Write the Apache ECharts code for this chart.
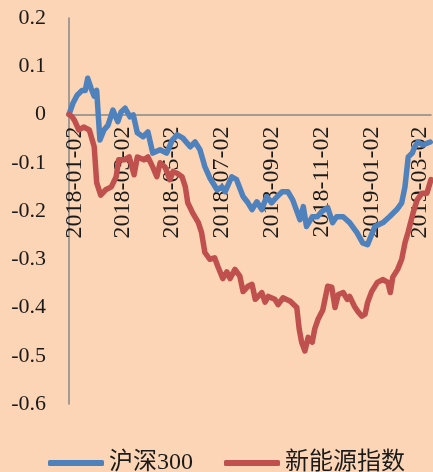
<!DOCTYPE html>
<html>
<head>
<meta charset="utf-8">
<script src="https://cdn.jsdelivr.net/npm/echarts@6/dist/echarts.min.js"></script>
<style>
  html, body { margin: 0; padding: 0; background: #FBD5B5; }
  #chart { width: 433px; height: 472px; }
</style>
</head>
<body>
<div id="chart"></div>
<script>
// tick labels on the date axis
const dateTicks = [
  "2018-01-02", "2018-03-02", "2018-05-02", "2018-07-02",
  "2018-09-02", "2018-11-02", "2019-01-02", "2019-03-02"
]

// 沪深300, cumulative return
const hs300 = [
  ["2018-01-02", 0], ["2018-01-07", 0.024], ["2018-01-12", 0.04], ["2018-01-18", 0.05],
  ["2018-01-22", 0.05], ["2018-01-25", 0.075], ["2018-01-29", 0.055], ["2018-02-02", 0.038],
  ["2018-02-05", 0.05], ["2018-02-09", -0.053], ["2018-02-14", -0.032], ["2018-02-19", -0.022],
  ["2018-02-25", 0.009], ["2018-03-03", -0.015], ["2018-03-07", 0.005], ["2018-03-12", 0.013],
  ["2018-03-18", -0.005], ["2018-03-22", -0.001], ["2018-03-27", -0.038], ["2018-04-03", -0.046],
  ["2018-04-09", -0.036], ["2018-04-15", -0.08], ["2018-04-24", -0.073], ["2018-05-02", -0.08],
  ["2018-05-09", -0.053], ["2018-05-15", -0.042], ["2018-05-22", -0.049], ["2018-05-31", -0.067],
  ["2018-06-06", -0.057], ["2018-06-12", -0.073], ["2018-06-18", -0.108], ["2018-06-24", -0.131],
  ["2018-07-03", -0.156], ["2018-07-09", -0.15], ["2018-07-13", -0.16], ["2018-07-21", -0.129],
  ["2018-07-27", -0.135], ["2018-08-04", -0.17], ["2018-08-10", -0.183], ["2018-08-15", -0.197],
  ["2018-08-21", -0.181], ["2018-08-27", -0.197], ["2018-09-02", -0.17], ["2018-09-08", -0.183],
  ["2018-09-15", -0.17], ["2018-09-21", -0.16], ["2018-09-28", -0.16], ["2018-10-04", -0.177],
  ["2018-10-13", -0.218], ["2018-10-17", -0.191], ["2018-10-21", -0.232], ["2018-10-28", -0.212],
  ["2018-11-03", -0.212], ["2018-11-09", -0.201], ["2018-11-16", -0.193], ["2018-11-22", -0.224],
  ["2018-11-27", -0.212], ["2018-12-05", -0.212], ["2018-12-13", -0.224], ["2018-12-22", -0.245],
  ["2018-12-29", -0.266], ["2019-01-04", -0.27], ["2019-01-13", -0.232], ["2019-01-23", -0.224],
  ["2019-01-31", -0.212], ["2019-02-09", -0.197], ["2019-02-15", -0.183], ["2019-02-19", -0.15],
  ["2019-02-23", -0.088], ["2019-02-28", -0.08], ["2019-03-03", -0.067], ["2019-03-07", -0.057],
  ["2019-03-13", -0.063], ["2019-03-22", -0.057]
]

// 新能源指数
const newEnergy = [
  ["2018-01-02", 0], ["2018-01-06", -0.005], ["2018-01-09", -0.013], ["2018-01-14", -0.032],
  ["2018-01-20", -0.026], ["2018-01-27", -0.032], ["2018-02-02", -0.067], ["2018-02-05", -0.141],
  ["2018-02-10", -0.167], ["2018-02-16", -0.156], ["2018-02-23", -0.15], ["2018-03-01", -0.129],
  ["2018-03-04", -0.094], ["2018-03-11", -0.094], ["2018-03-17", -0.088], ["2018-03-23", -0.125],
  ["2018-03-27", -0.088], ["2018-04-04", -0.094], ["2018-04-09", -0.088], ["2018-04-15", -0.109],
  ["2018-04-20", -0.129], ["2018-04-24", -0.1], ["2018-04-30", -0.109], ["2018-05-06", -0.135],
  ["2018-05-10", -0.118], ["2018-05-15", -0.122], ["2018-05-21", -0.129], ["2018-05-25", -0.15],
  ["2018-05-28", -0.183], ["2018-06-03", -0.204], ["2018-06-10", -0.224], ["2018-06-14", -0.245],
  ["2018-06-18", -0.286], ["2018-06-24", -0.3], ["2018-06-30", -0.297], ["2018-07-04", -0.315],
  ["2018-07-10", -0.34], ["2018-07-15", -0.326], ["2018-07-19", -0.34], ["2018-07-25", -0.321],
  ["2018-07-31", -0.335], ["2018-08-04", -0.367], ["2018-08-10", -0.356], ["2018-08-15", -0.352],
  ["2018-08-19", -0.383], ["2018-08-27", -0.369], ["2018-08-31", -0.389], ["2018-09-04", -0.377],
  ["2018-09-12", -0.383], ["2018-09-16", -0.394], ["2018-09-22", -0.38], ["2018-10-01", -0.387],
  ["2018-10-09", -0.4], ["2018-10-12", -0.445], ["2018-10-15", -0.472], ["2018-10-19", -0.49],
  ["2018-10-23", -0.462], ["2018-10-28", -0.472], ["2018-10-31", -0.445], ["2018-11-04", -0.425],
  ["2018-11-10", -0.405], ["2018-11-16", -0.356], ["2018-11-21", -0.358], ["2018-11-25", -0.4],
  ["2018-11-29", -0.373], ["2018-12-05", -0.369], ["2018-12-10", -0.383], ["2018-12-13", -0.377],
  ["2018-12-19", -0.398], ["2018-12-23", -0.408], ["2018-12-28", -0.418], ["2019-01-01", -0.414],
  ["2019-01-04", -0.39], ["2019-01-09", -0.367], ["2019-01-16", -0.348], ["2019-01-23", -0.342],
  ["2019-01-29", -0.348], ["2019-02-01", -0.369], ["2019-02-04", -0.337], ["2019-02-10", -0.321],
  ["2019-02-15", -0.3], ["2019-02-19", -0.266], ["2019-02-23", -0.243], ["2019-03-01", -0.204],
  ["2019-03-06", -0.177], ["2019-03-12", -0.163], ["2019-03-18", -0.163], ["2019-03-23", -0.135]
]

const serif = "'Liberation Serif', 'Noto Sans CJK SC', serif"
const toTime = (d) => echarts.time.parse(d).getTime()
const tickTimes = dateTicks.map(toTime)
const toPoints = (rows) => rows.map(([d, v]) => [toTime(d), v])

const yMin = -0.6
const yMax = 0.2
const gridTop = 18
const gridBottom = 68
const plotHeight = 472 - gridTop - gridBottom
// lift the date axis from the grid bottom up to the zero line
const zeroOffset = -plotHeight * (0 - yMin) / (yMax - yMin)

const chart = echarts.init(document.getElementById("chart"), null, { renderer: "canvas" })

chart.setOption({
  backgroundColor: "#FBD5B5",
  animation: false,
  textStyle: { fontFamily: serif },
  grid: {
    left: 69, right: 2, top: gridTop, bottom: gridBottom,
    containLabel: false, outerBoundsMode: "none"
  },
  legend: {
    left: 43,
    top: 446,
    icon: "roundRect",
    itemWidth: 56,
    itemHeight: 6,
    itemGap: 31,
    textStyle: { fontFamily: serif, fontSize: 24, color: "#1a1a1a" },
    data: ["沪深300", "新能源指数"]
  },
  xAxis: {
    type: "value",
    position: "bottom",
    offset: zeroOffset,
    min: toTime("2018-01-02"),
    max: toTime("2019-03-23"),
    axisLine: { onZero: false, lineStyle: { color: "#868686", width: 1.5 } },
    axisTick: { show: false },
    splitLine: { show: false },
    axisLabel: {
      customValues: tickTimes,
      rotate: 90,
      margin: 12,
      verticalAlign: "top",
      lineHeight: 11,
      fontFamily: serif,
      fontSize: 24,
      color: "#1a1a1a",
      hideOverlap: false,
      formatter: (val) => dateTicks[tickTimes.indexOf(val)] || ""
    }
  },
  yAxis: {
    type: "value",
    min: yMin,
    max: yMax,
    interval: 0.1,
    axisLine: { show: true, onZero: false, lineStyle: { color: "#868686", width: 1.5 } },
    axisTick: { show: false },
    splitLine: { show: false },
    axisLabel: {
      margin: 23,
      fontFamily: serif,
      fontSize: 22,
      color: "#1a1a1a",
      formatter: (v) => String(Math.round(v * 10) / 10)
    }
  },
  series: [
    {
      name: "沪深300",
      type: "line",
      data: toPoints(hs300),
      showSymbol: false,
      lineStyle: { color: "#4F81BD", width: 5.5, cap: "round", join: "round" },
      itemStyle: { color: "#4F81BD" }
    },
    {
      name: "新能源指数",
      type: "line",
      data: toPoints(newEnergy),
      showSymbol: false,
      lineStyle: { color: "#C0504D", width: 5.5, cap: "round", join: "round" },
      itemStyle: { color: "#C0504D" }
    }
  ]
})
</script>
</body>
</html>
